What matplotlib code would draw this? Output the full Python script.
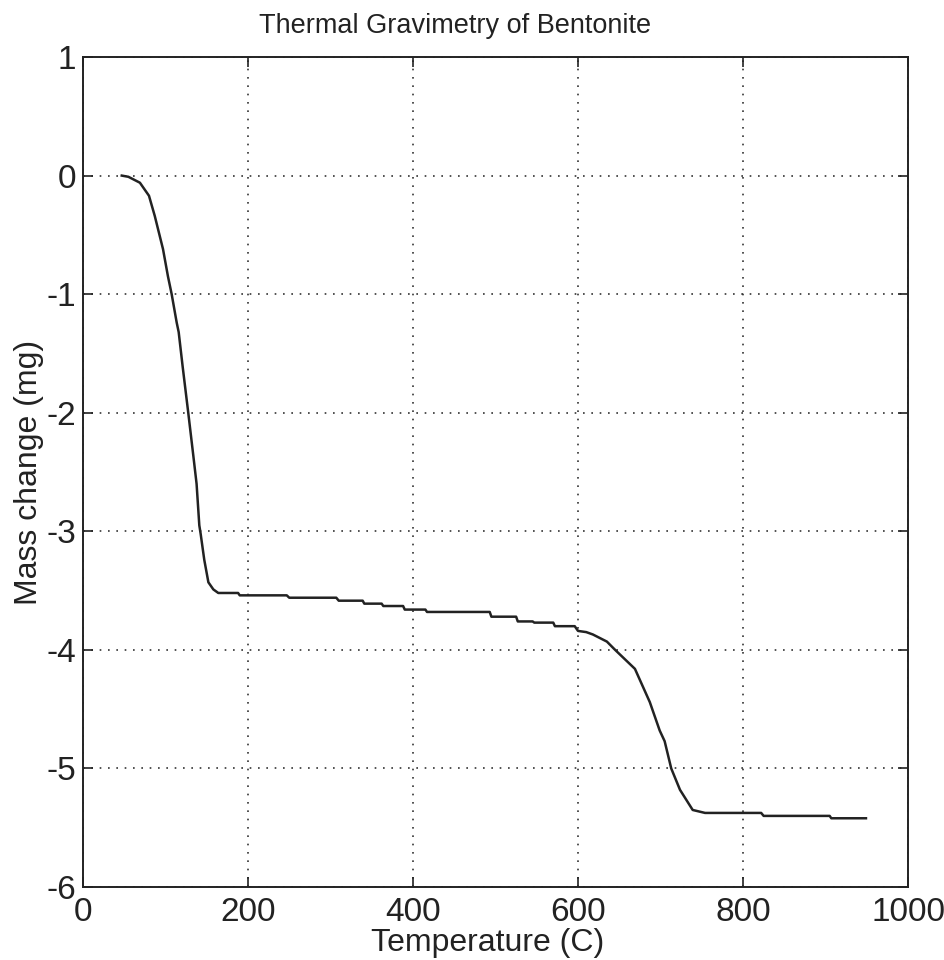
import matplotlib
matplotlib.use("Agg")
import matplotlib.pyplot as plt

plt.rcParams['font.family'] = ['Liberation Sans', 'DejaVu Sans']
plt.rcParams['axes.unicode_minus'] = False

# Measured TGA trace: temperature (C) and mass change (mg)
temperature = [47, 55, 69, 80, 87, 97, 103, 107.5, 113.6, 116, 120.8, 127.6,
               133.7, 137.7, 141, 142.6, 147, 152, 158, 164, 188, 190, 247,
               250, 307, 310, 339, 341, 362, 364, 388, 390, 415, 417, 493,
               495, 525, 527, 545, 547, 570, 572, 596, 600, 610, 618, 635,
               645, 669, 687, 699, 705, 713, 723.6, 739, 754, 822, 825, 905,
               907, 949]
mass_change = [0.0, -0.01, -0.06, -0.17, -0.34, -0.62, -0.85, -1.0, -1.24,
               -1.32, -1.61, -2.0, -2.36, -2.6, -2.95, -3.02, -3.24, -3.43,
               -3.49, -3.52, -3.52, -3.54, -3.54, -3.56, -3.56, -3.585,
               -3.585, -3.61, -3.61, -3.63, -3.63, -3.66, -3.66, -3.68,
               -3.68, -3.72, -3.72, -3.76, -3.76, -3.77, -3.77, -3.80, -3.80,
               -3.84, -3.85, -3.87, -3.93, -4.0, -4.16, -4.44, -4.68, -4.77,
               -5.0, -5.18, -5.35, -5.375, -5.375, -5.40, -5.40, -5.42, -5.42]

x_ticks = [0, 200, 400, 600, 800, 1000]
y_ticks = [-6, -5, -4, -3, -2, -1, 0, 1]

fig = plt.figure(figsize=(9.44, 9.6), dpi=100)
ax = fig.add_axes([0.0879, 0.076, 0.874, 0.8646])

ax.plot(temperature, mass_change, color='#222222', linewidth=1.8)

ax.set_xlim(0, 1000)
ax.set_ylim(-6, 1)
ax.set_xticks(x_ticks)
ax.set_yticks(y_ticks)
ax.grid(True, color='#333333', linestyle=(0, (1, 4)), linewidth=1.2)

ax.tick_params(direction='in', length=7, width=1.2, top=True, right=True,
               labelsize=24, colors='#222222')
ax.tick_params(axis='x', pad=7)
ax.tick_params(axis='y', pad=5)
for s in ax.spines.values():
    s.set_linewidth(1.4)
    s.set_color('#222222')

fig.text(455 / 944, 1 - 33 / 960, 'Thermal Gravimetry of Bentonite',
         fontsize=19.5, ha='center', va='baseline', color='#222222')
ax.set_xlabel('Temperature (C)', fontsize=23, color='#222222')
ax.xaxis.set_label_coords(0.49, -0.049)
ax.set_ylabel('Mass change (mg)', fontsize=23, labelpad=2, color='#222222')

fig.savefig('out.png', dpi=100)
